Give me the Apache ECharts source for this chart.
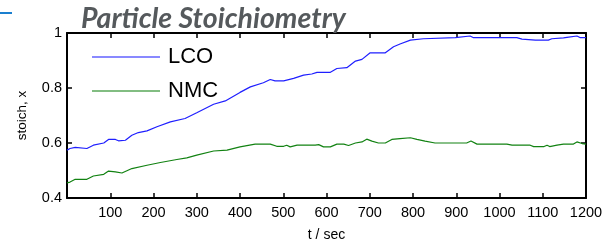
<!DOCTYPE html>
<html lang="en">

<head>
    <meta charset="UTF-8">
    <title>Particle Stoichiometry</title>
    <script src="https://cdn.jsdelivr.net/npm/echarts@6/dist/echarts.min.js"></script>
    <style>
        html, body { margin: 0; padding: 0; background: #fff; }
        #chart { width: 603px; height: 242px; }
    </style>
</head>

<body>
    <div id="chart"></div>
    <script>
        const lcoTime = [0, 7, 19, 46, 61, 85, 96, 112, 119, 135, 150, 165, 185, 208, 239, 273, 300, 339, 366, 400,
            424, 454, 470, 481, 501, 524, 547, 566, 578, 609, 624, 647, 667, 682, 701, 736, 755, 770, 794, 824,
            898, 932, 940, 1040, 1052, 1083, 1113, 1121, 1148, 1156, 1179, 1187, 1200];
        const lcoValues = [0.574, 0.58, 0.584, 0.58, 0.592, 0.6, 0.613, 0.613, 0.608, 0.61, 0.628, 0.638, 0.644, 0.659, 0.677, 0.689, 0.71, 0.741, 0.753, 0.784,
            0.804, 0.819, 0.831, 0.826, 0.826, 0.835, 0.847, 0.851, 0.857, 0.857, 0.871, 0.874, 0.898, 0.904, 0.928, 0.928, 0.95, 0.96, 0.974, 0.979,
            0.983, 0.989, 0.983, 0.983, 0.978, 0.974, 0.974, 0.979, 0.982, 0.984, 0.989, 0.983, 0.983];

        const nmcTime = [0, 7, 19, 46, 61, 85, 96, 112, 127, 150, 185, 216, 254, 277, 300, 339, 370, 400, 435, 470,
            485, 501, 508, 516, 532, 574, 582, 593, 609, 624, 640, 651, 667, 682, 693, 705, 720, 736, 751, 770,
            794, 809, 828, 851, 924, 934, 948, 1017, 1029, 1071, 1079, 1103, 1110, 1116, 1133, 1148, 1171, 1179, 1191, 1200];
        const nmcValues = [0.455, 0.458, 0.468, 0.468, 0.48, 0.486, 0.498, 0.495, 0.491, 0.507, 0.519, 0.529, 0.54, 0.546, 0.556, 0.571, 0.574, 0.586, 0.596, 0.596,
            0.588, 0.588, 0.592, 0.586, 0.592, 0.592, 0.594, 0.586, 0.586, 0.596, 0.596, 0.591, 0.6, 0.604, 0.614, 0.607, 0.6, 0.6, 0.613, 0.616,
            0.619, 0.613, 0.607, 0.6, 0.6, 0.607, 0.596, 0.596, 0.592, 0.592, 0.587, 0.587, 0.592, 0.587, 0.592, 0.596, 0.596, 0.604, 0.598, 0.596];

        const seriesNames = ['LCO', 'NMC'];
        const seriesColors = ['#1f1fff', '#128212'];

        const pairs = (xs, ys) => xs.map((x, i) => [x, ys[i]]);

        const chart = echarts.init(document.getElementById('chart'));
        const font = '"Liberation Sans", Arial, sans-serif';

        // box round the plot: bottom/left carry labels, top/right only ticks
        const boxAxis = {
            axisLine: { show: true, onZero: false, lineStyle: { color: '#000', width: 2 } },
            axisTick: { show: true, inside: true, length: 5, lineStyle: { color: '#000', width: 1.5 } },
            splitLine: { show: false }
        };

        const option = {
            backgroundColor: '#fff',
            animation: false,
            title: {
                text: 'Particle Stoichiometry',
                left: 81,
                top: 4,
                padding: 0,
                textStyle: {
                    fontFamily: 'Lato, sans-serif',
                    fontStyle: 'italic',
                    fontWeight: 'bold',
                    fontSize: 28.5,
                    color: '#55595c'
                }
            },
            graphic: [{
                type: 'rect',
                shape: { x: 0, y: 12, width: 12, height: 2 },
                style: { fill: '#1a7fcf' }
            }],
            legend: {
                orient: 'vertical',
                left: 87,
                top: 41,
                icon: 'rect',
                itemWidth: 68,
                itemHeight: 1.5,
                itemGap: 12,
                textStyle: { fontFamily: font, fontSize: 22, color: '#000', padding: [0, 0, 0, 3], lineHeight: 14 },
                data: seriesNames.map((n, i) => ({ name: n, itemStyle: { color: seriesColors[i], opacity: 0.7 } }))
            },
            grid: { left: 67, right: 17, top: 33, bottom: 44, outerBoundsMode: 'none' },
            xAxis: [
                Object.assign({}, boxAxis, {
                    type: 'value', position: 'bottom', min: 0, max: 1200, interval: 100,
                    name: 't / sec', nameLocation: 'middle', nameGap: 30,
                    nameTextStyle: { fontFamily: font, fontSize: 14, color: '#000' },
                    axisLabel: {
                        fontFamily: font, fontSize: 14.5, color: '#000', margin: 7,
                        formatter: v => v === 0 ? '' : v
                    }
                }),
                Object.assign({}, boxAxis, {
                    type: 'value', position: 'top', min: 0, max: 1200, interval: 100,
                    axisLabel: { show: false }
                })
            ],
            yAxis: [
                Object.assign({}, boxAxis, {
                    type: 'value', position: 'left', min: 0.4, max: 1, interval: 0.2,
                    name: 'stoich, x', nameLocation: 'middle', nameGap: 38,
                    nameTextStyle: { fontFamily: font, fontSize: 13.5, color: '#000' },
                    axisLabel: { fontFamily: font, fontSize: 14.5, color: '#000', margin: 5 }
                }),
                Object.assign({}, boxAxis, {
                    type: 'value', position: 'right', min: 0.4, max: 1, interval: 0.2,
                    axisLabel: { show: false }
                })
            ],
            series: [
                {
                    name: seriesNames[0], type: 'line', xAxisIndex: 0, yAxisIndex: 0,
                    symbol: 'none', color: seriesColors[0],
                    lineStyle: { width: 1.2 },
                    data: pairs(lcoTime, lcoValues)
                },
                {
                    name: seriesNames[1], type: 'line', xAxisIndex: 0, yAxisIndex: 0,
                    symbol: 'none', color: seriesColors[1],
                    lineStyle: { width: 1.2 },
                    data: pairs(nmcTime, nmcValues)
                }
            ]
        };

        chart.setOption(option);
    </script>
</body>

</html>
